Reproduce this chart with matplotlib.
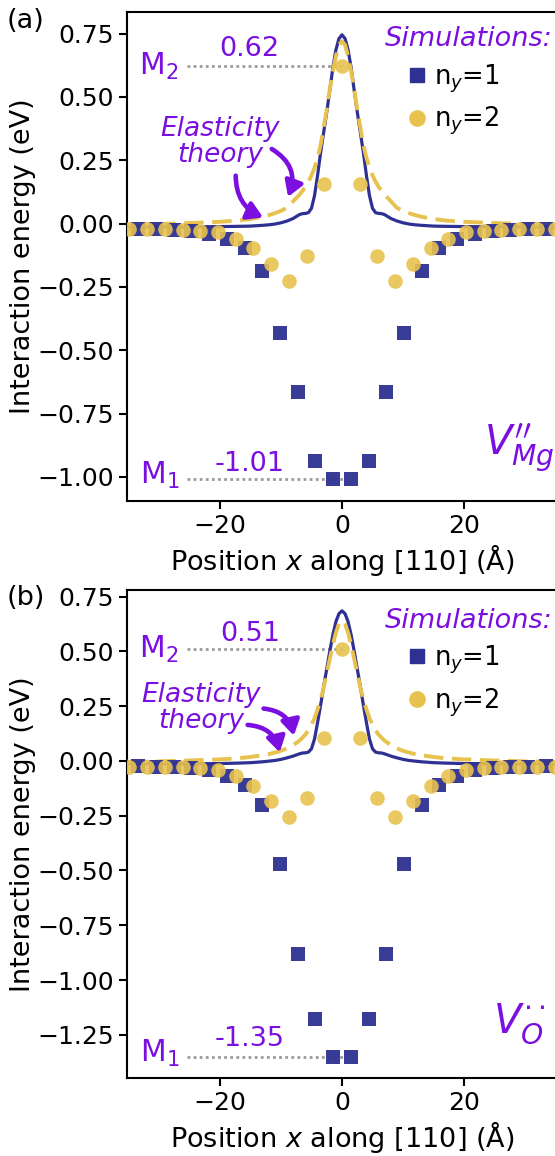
"""Interaction energy profiles for V''_Mg and V_O pairs along [110]."""

import matplotlib

matplotlib.use("Agg")
import matplotlib.pyplot as plt
from matplotlib.lines import Line2D
from matplotlib.patches import FancyArrowPatch

PURPLE = "#7b0ee0"
NAVY = "#2e3192"
GOLD = "#e8c24f"

# simulation sites (Angstrom)
x_ny1 = [-39.15, -36.25, -33.35, -30.45, -27.55, -24.65, -21.75, -18.85, -15.95, -13.05,
         -10.15, -7.25, -4.35, -1.45, 1.45, 4.35, 7.25, 10.15, 13.05, 15.95,
         18.85, 21.75, 24.65, 27.55, 30.45, 33.35, 36.25, 39.15]
x_ny2 = [-37.7, -34.8, -31.9, -29.0, -26.1, -23.2, -20.3, -17.4, -14.5, -11.6, -8.7, -5.8, -2.9,
         0.0, 2.9, 5.8, 8.7, 11.6, 14.5, 17.4, 20.3, 23.2, 26.1, 29.0, 31.9, 34.8, 37.7]

# panel (a): V''_Mg
mg_ny1 = [-0.02, -0.02, -0.02, -0.02, -0.025, -0.03, -0.04, -0.06, -0.095, -0.187,
          -0.431, -0.666, -0.936, -1.01, -1.01, -0.936, -0.666, -0.431, -0.187, -0.095,
          -0.06, -0.04, -0.03, -0.025, -0.02, -0.02, -0.02, -0.02]
mg_ny2 = [-0.02, -0.02, -0.02, -0.02, -0.024, -0.029, -0.033, -0.059, -0.095, -0.161, -0.228,
          -0.129, 0.155, 0.62, 0.155, -0.129, -0.228, -0.161, -0.095, -0.059, -0.033,
          -0.029, -0.024, -0.02, -0.02, -0.02, -0.02]

# panel (b): V_O
o_ny1 = [-0.025, -0.025, -0.025, -0.026, -0.026, -0.033, -0.041, -0.068, -0.109, -0.2,
         -0.47, -0.882, -1.177, -1.35, -1.35, -1.177, -0.882, -0.47, -0.2, -0.109,
         -0.068, -0.041, -0.033, -0.026, -0.026, -0.025, -0.025, -0.025]
o_ny2 = [-0.026, -0.026, -0.026, -0.026, -0.029, -0.033, -0.041, -0.071, -0.114, -0.182, -0.258,
         -0.17, 0.103, 0.51, 0.103, -0.17, -0.258, -0.182, -0.114, -0.071, -0.041,
         -0.033, -0.029, -0.026, -0.026, -0.026, -0.026]

# elasticity theory curves
x_theory = [-35, -30, -25, -20, -17, -15, -13, -12, -11, -10, -9, -8, -7, -6.5, -6, -5.5,
            -5, -4.5, -4, -3.5, -3, -2.5, -2, -1.5, -1, -0.5, 0, 0.5, 1, 1.5, 2, 2.5, 3,
            3.5, 4, 4.5, 5, 5.5, 6, 6.5, 7, 8, 9, 10, 11, 12, 13, 15, 17, 20, 25, 30, 35]
mg_solid = [-0.013, -0.013, -0.013, -0.012, -0.011, -0.01, -0.007, -0.005, -0.002, 0.003,
            0.01, 0.02, 0.035, 0.039, 0.04, 0.043, 0.06, 0.11, 0.19, 0.28, 0.36, 0.44, 0.525,
            0.615, 0.685, 0.73, 0.745, 0.73, 0.685, 0.615, 0.525, 0.44, 0.36, 0.28, 0.19, 0.11,
            0.06, 0.043, 0.04, 0.039, 0.035, 0.02, 0.01, 0.003, -0.002, -0.005, -0.007, -0.01,
            -0.011, -0.012, -0.013, -0.013, -0.013]
mg_dashed = [-0.004, -0.002, 0.002, 0.007, 0.012, 0.018, 0.027, 0.033, 0.041, 0.05, 0.062,
             0.088, 0.113, 0.128, 0.145, 0.165, 0.19, 0.22, 0.26, 0.31, 0.38, 0.45, 0.53, 0.6,
             0.66, 0.705, 0.72, 0.705, 0.66, 0.6, 0.53, 0.45, 0.38, 0.31, 0.26, 0.22, 0.19,
             0.165, 0.145, 0.128, 0.113, 0.088, 0.062, 0.05, 0.041, 0.033, 0.027, 0.018, 0.012,
             0.007, 0.002, -0.002, -0.004]
o_solid = [-0.013, -0.013, -0.013, -0.012, -0.01, -0.008, -0.004, -0.001, 0.002, 0.007,
           0.014, 0.022, 0.032, 0.036, 0.037, 0.04, 0.055, 0.1, 0.175, 0.255, 0.34, 0.42, 0.5,
           0.575, 0.635, 0.672, 0.685, 0.672, 0.635, 0.575, 0.5, 0.42, 0.34, 0.255, 0.175, 0.1,
           0.055, 0.04, 0.037, 0.036, 0.032, 0.022, 0.014, 0.007, 0.002, -0.001, -0.004, -0.008,
           -0.01, -0.012, -0.013, -0.013, -0.013]
o_dashed = [-0.004, -0.002, 0.002, 0.007, 0.012, 0.018, 0.026, 0.031, 0.038, 0.046, 0.057,
            0.072, 0.092, 0.105, 0.12, 0.14, 0.165, 0.195, 0.235, 0.28, 0.335, 0.4, 0.465, 0.53,
            0.585, 0.625, 0.64, 0.625, 0.585, 0.53, 0.465, 0.4, 0.335, 0.28, 0.235, 0.195, 0.165,
            0.14, 0.12, 0.105, 0.092, 0.072, 0.057, 0.046, 0.038, 0.031, 0.026, 0.018, 0.012,
            0.007, 0.002, -0.002, -0.004]

yticks_a = [0.75, 0.5, 0.25, 0.0, -0.25, -0.5, -0.75, -1.0]
yticks_b = [0.75, 0.5, 0.25, 0.0, -0.25, -0.5, -0.75, -1.0, -1.25]
xticks = [-20, 0, 20]

W, H = 555, 1156


def draw_panel(ax, ny1, ny2, solid, dashed, m1, m2, ylim, yticks, defect, arrows, elast_xy,
               m2_text_y, m1_text_y, title_y, legend_y):
    ax.plot(x_theory, solid, color=NAVY, lw=2.3, zorder=2)
    ax.plot(x_theory, dashed, color=GOLD, lw=2.8, dashes=(5, 2.2), zorder=3)
    ax.scatter(x_ny1, ny1, marker="s", s=95, color=NAVY, alpha=0.95, linewidths=0, zorder=4)
    ax.scatter(x_ny2, ny2, marker="o", s=110, color=GOLD, alpha=0.9, linewidths=0, zorder=5)

    # extreme-value markers
    ax.plot([-25.3, 0.0], [m2, m2], ls=(0, (1, 1.2)), color="#9a9a9a", lw=2, zorder=1)
    ax.plot([-25.3, 0.5], [m1, m1], ls=(0, (1, 1.2)), color="#9a9a9a", lw=2, zorder=1)
    ax.text(-30.0, m2, "M$_2$", color=PURPLE, fontsize=21.5, ha="center", va="center")
    ax.text(-29.8, m1 + 0.015, "M$_1$", color=PURPLE, fontsize=21.5, ha="center", va="center")
    ax.text(-15.1, m2_text_y, f"{m2:.2f}", color=PURPLE, fontsize=19.5, ha="center",
            va="center")
    ax.text(-15.2, m1_text_y, f"{m1:.2f}", color=PURPLE, fontsize=19.5, ha="center",
            va="center")

    ax.text(elast_xy[0], elast_xy[1], "Elasticity\ntheory", color=PURPLE, fontsize=19,
            style="italic", ha="center", va="center", linespacing=1.0)
    for (x0, y0), (x1, y1), rad in arrows:
        ax.add_patch(FancyArrowPatch((x0, y0), (x1, y1), connectionstyle=f"arc3,rad={rad}",
                                     arrowstyle="-|>,head_length=9,head_width=5.5",
                                     color=PURPLE, lw=3.3, zorder=6))

    ax.text(29.0, ylim[0] + 0.12 * (ylim[1] - ylim[0]) - 0.02, defect, color=PURPLE, fontsize=29,
            ha="center", va="center")

    ax.text(0.99, title_y, "Simulations:", transform=ax.transAxes, color=PURPLE, fontsize=19.5,
            style="italic", ha="right", va="center")
    handles = [
        Line2D([], [], marker="s", ls="", color=NAVY, markersize=10),
        Line2D([], [], marker="o", ls="", color=GOLD, markersize=11),
    ]
    ax.legend(handles, ["n$_y$=1", "n$_y$=2"], loc="upper left",
              bbox_to_anchor=(0.645, legend_y), frameon=False, fontsize=18.5,
              handletextpad=0.15, handlelength=1.0, labelspacing=0.4, borderaxespad=0.0,
              borderpad=0.0)

    ax.set_xlim(-35.2, 35.2)
    ax.set_ylim(*ylim)
    ax.set_xticks(xticks)
    ax.set_yticks(yticks)
    ax.tick_params(labelsize=18, length=6, width=1.5, direction="out")
    for side in ("top", "bottom", "left"):
        ax.spines[side].set_linewidth(1.5)
    ax.spines["right"].set_visible(False)
    ax.set_xlabel("Position $x$ along [110] (Å)", fontsize=19.5)
    ax.set_ylabel("Interaction energy (eV)", fontsize=19.5)
    ax.xaxis.set_label_coords(0.5, -0.083)
    ax.yaxis.set_label_coords(-0.212, 0.5)


fig = plt.figure(figsize=(W / 100, H / 100), dpi=100)
ax_a = fig.add_axes([127 / W, 1 - 501 / H, (557 - 127) / W, (501 - 12) / H])
ax_b = fig.add_axes([127 / W, 1 - 1078 / H, (557 - 127) / W, (1078 - 590) / H])

draw_panel(ax_a, mg_ny1, mg_ny2, mg_solid, mg_dashed, -1.01, 0.62, (-1.095, 0.835), yticks_a,
           r"$V_{Mg}^{\prime\prime}$",
           [((-17.4, 0.2), (-12.5, 0.02), 0.35), ((-11.9, 0.30), (-9.0, 0.095), -0.45)],
           (-20.0, 0.32), 0.69, -0.948, 0.945, 0.897)
draw_panel(ax_b, o_ny1, o_ny2, o_solid, o_dashed, -1.35, 0.51, (-1.447, 0.78), yticks_b,
           r"$V_{O}^{\cdot\cdot}$",
           [((-15.9, 0.165), (-10.1, 0.027), -0.4), ((-13.3, 0.24), (-7.8, 0.103), -0.4)],
           (-23.1, 0.24), 0.58, -1.27, 0.9365, 0.89)

fig.text(0.012, 1 - 21 / H, "(a)", fontsize=19.5, va="center")
fig.text(0.012, 1 - 598 / H, "(b)", fontsize=19.5, va="center")

fig.savefig("out.png", dpi=100)
